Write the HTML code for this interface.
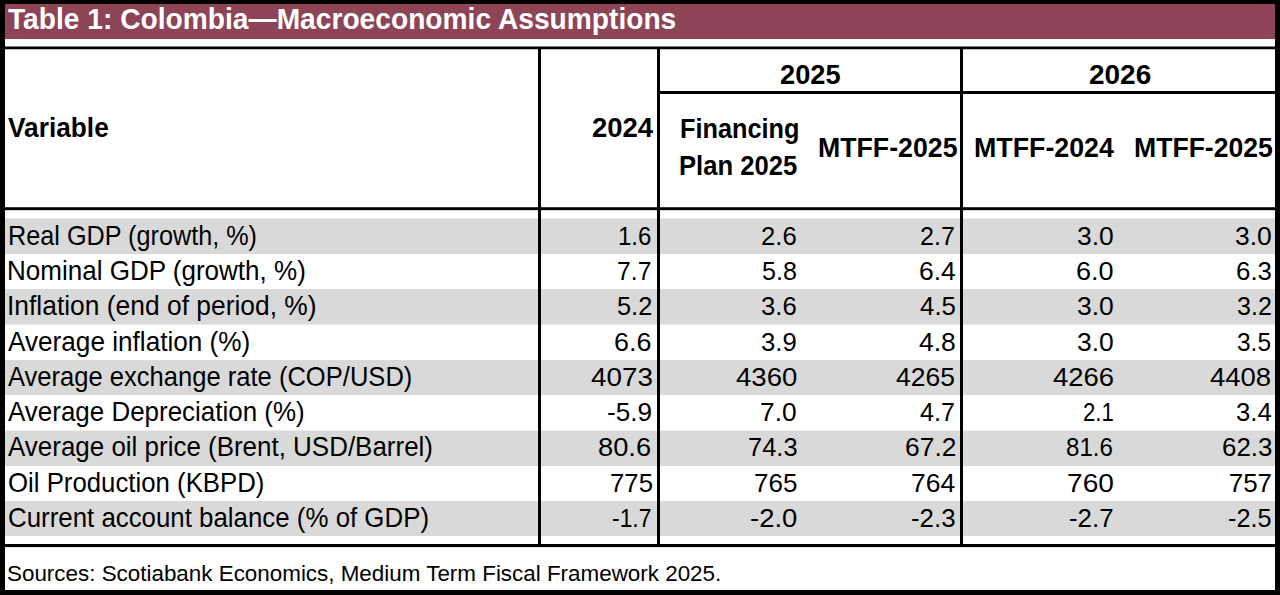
<!DOCTYPE html>
<html><head><meta charset="utf-8"><style>
html,body{margin:0;padding:0;}
body{width:1280px;height:595px;position:relative;overflow:hidden;background:#fff;font-family:"Liberation Sans",sans-serif;}
div{position:absolute;}
.t{position:absolute;white-space:nowrap;}
</style></head><body>
<div style="left:0px;top:0px;width:1280px;height:4px;background:#000"></div>
<div style="left:0px;top:0px;width:5px;height:595px;background:#000"></div>
<div style="left:1275px;top:0px;width:5px;height:595px;background:#000"></div>
<div style="left:0px;top:590px;width:1280px;height:5px;background:#000"></div>
<div style="left:5px;top:4px;width:1270px;height:35px;background:#8d4457"></div>
<div style="left:5px;top:219px;width:1270px;height:35px;background:#d9d9d9"></div>
<div style="left:5px;top:289px;width:1270px;height:35px;background:#d9d9d9"></div>
<div style="left:5px;top:360px;width:1270px;height:35px;background:#d9d9d9"></div>
<div style="left:5px;top:431px;width:1270px;height:35px;background:#d9d9d9"></div>
<div style="left:5px;top:501px;width:1270px;height:35px;background:#d9d9d9"></div>
<div style="left:5px;top:218px;width:1270px;height:1px;background:#ececec"></div>
<div style="left:5px;top:324px;width:1270px;height:1px;background:#ececec"></div>
<div style="left:5px;top:430px;width:1270px;height:1px;background:#eeeeee"></div>
<div style="left:5px;top:46px;width:1270px;height:1px;background:#808080"></div>
<div style="left:5px;top:47px;width:1270px;height:2px;background:#000"></div>
<div style="left:5px;top:49px;width:1270px;height:1px;background:#c0c0c0"></div>
<div style="left:657px;top:91px;width:618px;height:3px;background:#000"></div>
<div style="left:5px;top:207px;width:1270px;height:1px;background:#383838"></div>
<div style="left:5px;top:208px;width:1270px;height:2px;background:#000"></div>
<div style="left:5px;top:210px;width:1270px;height:1px;background:#d0d0d0"></div>
<div style="left:5px;top:544px;width:1270px;height:3px;background:#000"></div>
<div style="left:5px;top:547px;width:1270px;height:1px;background:#e0e0e0"></div>
<div style="left:538px;top:47px;width:3px;height:500px;background:#000"></div>
<div style="left:657px;top:47px;width:3px;height:500px;background:#000"></div>
<div style="left:960px;top:47px;width:3px;height:500px;background:#000"></div>
<span class="t" style="left:7.90px;top:4.00px;font-size:29.5px;line-height:29.5px;font-weight:700;color:#fff;transform-origin:0 25.00px;transform:scale(0.9548,1.0046)">Table 1: Colombia—Macroeconomic Assumptions</span>
<span class="t" style="left:8.00px;top:115.00px;font-size:26px;line-height:26px;font-weight:700;color:#000;transform-origin:0 22.00px;transform:scale(1.0101,1.0455)">Variable</span>
<span class="t" style="left:591.70px;top:115.20px;font-size:26px;line-height:26px;font-weight:700;color:#000;transform-origin:0 22.00px;transform:scale(1.0562,1.0455)">2024</span>
<span class="t" style="left:779.50px;top:61.75px;font-size:26px;line-height:26px;font-weight:700;color:#000;transform-origin:0 22.00px;transform:scale(1.0465,1.0567)">2025</span>
<span class="t" style="left:1088.70px;top:61.75px;font-size:26px;line-height:26px;font-weight:700;color:#000;transform-origin:0 22.00px;transform:scale(1.0751,1.0567)">2026</span>
<span class="t" style="left:679.80px;top:116.10px;font-size:26px;line-height:26px;font-weight:700;color:#000;transform-origin:0 22.00px;transform:scale(0.9731,1.0455)">Financing</span>
<span class="t" style="left:679.25px;top:152.70px;font-size:26px;line-height:26px;font-weight:700;color:#000;transform-origin:0 22.00px;transform:scale(0.9863,1.0455)">Plan 2025</span>
<span class="t" style="left:817.50px;top:135.00px;font-size:26px;line-height:26px;font-weight:700;color:#000;transform-origin:0 22.00px;transform:scale(1.0271,1.0455)">MTFF-2025</span>
<span class="t" style="left:974.25px;top:135.00px;font-size:26px;line-height:26px;font-weight:700;color:#000;transform-origin:0 22.00px;transform:scale(1.0299,1.0455)">MTFF-2024</span>
<span class="t" style="left:1133.75px;top:135.00px;font-size:26px;line-height:26px;font-weight:700;color:#000;transform-origin:0 22.00px;transform:scale(1.0226,1.0455)">MTFF-2025</span>
<span class="t" style="left:7.80px;top:222.70px;font-size:26px;line-height:26px;font-weight:400;color:#000;transform-origin:0 22.00px;transform:scale(0.9700,1.0335)">Real GDP (growth, %)</span>
<span class="t" style="left:618.10px;top:222.70px;font-size:26px;line-height:26px;font-weight:400;color:#000;transform-origin:0 22.00px;transform:scale(0.9216,1.0015)">1.6</span>
<span class="t" style="left:760.80px;top:222.70px;font-size:26px;line-height:26px;font-weight:400;color:#000;transform-origin:0 22.00px;transform:scale(0.9883,1.0015)">2.6</span>
<span class="t" style="left:920.00px;top:222.70px;font-size:26px;line-height:26px;font-weight:400;color:#000;transform-origin:0 22.00px;transform:scale(0.9651,1.0015)">2.7</span>
<span class="t" style="left:1076.80px;top:222.70px;font-size:26px;line-height:26px;font-weight:400;color:#000;transform-origin:0 22.00px;transform:scale(1.0180,1.0015)">3.0</span>
<span class="t" style="left:1234.60px;top:222.70px;font-size:26px;line-height:26px;font-weight:400;color:#000;transform-origin:0 22.00px;transform:scale(1.0177,1.0015)">3.0</span>
<span class="t" style="left:7.30px;top:257.98px;font-size:26px;line-height:26px;font-weight:400;color:#000;transform-origin:0 22.00px;transform:scale(1.0007,1.0335)">Nominal GDP (growth, %)</span>
<span class="t" style="left:617.20px;top:257.98px;font-size:26px;line-height:26px;font-weight:400;color:#000;transform-origin:0 22.00px;transform:scale(0.9530,1.0015)">7.7</span>
<span class="t" style="left:761.50px;top:257.98px;font-size:26px;line-height:26px;font-weight:400;color:#000;transform-origin:0 22.00px;transform:scale(0.9651,1.0015)">5.8</span>
<span class="t" style="left:918.80px;top:257.98px;font-size:26px;line-height:26px;font-weight:400;color:#000;transform-origin:0 22.00px;transform:scale(1.0177,1.0015)">6.4</span>
<span class="t" style="left:1075.60px;top:257.98px;font-size:26px;line-height:26px;font-weight:400;color:#000;transform-origin:0 22.00px;transform:scale(1.0415,1.0015)">6.0</span>
<span class="t" style="left:1235.80px;top:257.98px;font-size:26px;line-height:26px;font-weight:400;color:#000;transform-origin:0 22.00px;transform:scale(0.9944,1.0015)">6.3</span>
<span class="t" style="left:7.30px;top:293.26px;font-size:26px;line-height:26px;font-weight:400;color:#000;transform-origin:0 22.00px;transform:scale(1.0153,1.0335)">Inflation (end of period, %)</span>
<span class="t" style="left:617.20px;top:293.26px;font-size:26px;line-height:26px;font-weight:400;color:#000;transform-origin:0 22.00px;transform:scale(0.9768,1.0015)">5.2</span>
<span class="t" style="left:760.80px;top:293.26px;font-size:26px;line-height:26px;font-weight:400;color:#000;transform-origin:0 22.00px;transform:scale(0.9883,1.0015)">3.6</span>
<span class="t" style="left:919.50px;top:293.26px;font-size:26px;line-height:26px;font-weight:400;color:#000;transform-origin:0 22.00px;transform:scale(0.9944,1.0015)">4.5</span>
<span class="t" style="left:1076.80px;top:293.26px;font-size:26px;line-height:26px;font-weight:400;color:#000;transform-origin:0 22.00px;transform:scale(1.0180,1.0015)">3.0</span>
<span class="t" style="left:1237.00px;top:293.26px;font-size:26px;line-height:26px;font-weight:400;color:#000;transform-origin:0 22.00px;transform:scale(0.9651,1.0015)">3.2</span>
<span class="t" style="left:8.20px;top:328.54px;font-size:26px;line-height:26px;font-weight:400;color:#000;transform-origin:0 22.00px;transform:scale(1.0059,1.0335)">Average inflation (%)</span>
<span class="t" style="left:614.40px;top:328.54px;font-size:26px;line-height:26px;font-weight:400;color:#000;transform-origin:0 22.00px;transform:scale(1.0356,1.0015)">6.6</span>
<span class="t" style="left:760.80px;top:328.54px;font-size:26px;line-height:26px;font-weight:400;color:#000;transform-origin:0 22.00px;transform:scale(0.9883,1.0015)">3.9</span>
<span class="t" style="left:918.80px;top:328.54px;font-size:26px;line-height:26px;font-weight:400;color:#000;transform-origin:0 22.00px;transform:scale(1.0180,1.0015)">4.8</span>
<span class="t" style="left:1076.80px;top:328.54px;font-size:26px;line-height:26px;font-weight:400;color:#000;transform-origin:0 22.00px;transform:scale(1.0180,1.0015)">3.0</span>
<span class="t" style="left:1237.00px;top:328.54px;font-size:26px;line-height:26px;font-weight:400;color:#000;transform-origin:0 22.00px;transform:scale(0.9416,1.0015)">3.5</span>
<span class="t" style="left:8.20px;top:363.82px;font-size:26px;line-height:26px;font-weight:400;color:#000;transform-origin:0 22.00px;transform:scale(0.9829,1.0335)">Average exchange rate (COP/USD)</span>
<span class="t" style="left:591.40px;top:363.82px;font-size:26px;line-height:26px;font-weight:400;color:#000;transform-origin:0 22.00px;transform:scale(1.0716,1.0015)">4073</span>
<span class="t" style="left:735.60px;top:363.82px;font-size:26px;line-height:26px;font-weight:400;color:#000;transform-origin:0 22.00px;transform:scale(1.0608,1.0015)">4360</span>
<span class="t" style="left:896.30px;top:363.82px;font-size:26px;line-height:26px;font-weight:400;color:#000;transform-origin:0 22.00px;transform:scale(1.0180,1.0015)">4265</span>
<span class="t" style="left:1052.75px;top:363.82px;font-size:26px;line-height:26px;font-weight:400;color:#000;transform-origin:0 22.00px;transform:scale(1.0571,1.0015)">4266</span>
<span class="t" style="left:1209.70px;top:363.82px;font-size:26px;line-height:26px;font-weight:400;color:#000;transform-origin:0 22.00px;transform:scale(1.0572,1.0015)">4408</span>
<span class="t" style="left:8.20px;top:399.10px;font-size:26px;line-height:26px;font-weight:400;color:#000;transform-origin:0 22.00px;transform:scale(0.9980,1.0335)">Average Depreciation (%)</span>
<span class="t" style="left:606.50px;top:399.10px;font-size:26px;line-height:26px;font-weight:400;color:#000;transform-origin:0 22.00px;transform:scale(1.0049,1.0015)">-5.9</span>
<span class="t" style="left:760.10px;top:399.10px;font-size:26px;line-height:26px;font-weight:400;color:#000;transform-origin:0 22.00px;transform:scale(1.0121,1.0015)">7.0</span>
<span class="t" style="left:920.00px;top:399.10px;font-size:26px;line-height:26px;font-weight:400;color:#000;transform-origin:0 22.00px;transform:scale(0.9651,1.0015)">4.7</span>
<span class="t" style="left:1082.70px;top:399.10px;font-size:26px;line-height:26px;font-weight:400;color:#000;transform-origin:0 22.00px;transform:scale(0.8535,1.0015)">2.1</span>
<span class="t" style="left:1235.80px;top:399.10px;font-size:26px;line-height:26px;font-weight:400;color:#000;transform-origin:0 22.00px;transform:scale(0.9889,1.0015)">3.4</span>
<span class="t" style="left:8.20px;top:434.38px;font-size:26px;line-height:26px;font-weight:400;color:#000;transform-origin:0 22.00px;transform:scale(0.9981,1.0335)">Average oil price (Brent, USD/Barrel)</span>
<span class="t" style="left:598.20px;top:434.38px;font-size:26px;line-height:26px;font-weight:400;color:#000;transform-origin:0 22.00px;transform:scale(1.0490,1.0015)">80.6</span>
<span class="t" style="left:747.70px;top:434.38px;font-size:26px;line-height:26px;font-weight:400;color:#000;transform-origin:0 22.00px;transform:scale(0.9798,1.0015)">74.3</span>
<span class="t" style="left:904.50px;top:434.38px;font-size:26px;line-height:26px;font-weight:400;color:#000;transform-origin:0 22.00px;transform:scale(1.0169,1.0015)">67.2</span>
<span class="t" style="left:1066.10px;top:434.38px;font-size:26px;line-height:26px;font-weight:400;color:#000;transform-origin:0 22.00px;transform:scale(0.9266,1.0015)">81.6</span>
<span class="t" style="left:1221.50px;top:434.38px;font-size:26px;line-height:26px;font-weight:400;color:#000;transform-origin:0 22.00px;transform:scale(0.9960,1.0015)">62.3</span>
<span class="t" style="left:7.80px;top:469.66px;font-size:26px;line-height:26px;font-weight:400;color:#000;transform-origin:0 22.00px;transform:scale(0.9914,1.0335)">Oil Production (KBPD)</span>
<span class="t" style="left:609.60px;top:469.66px;font-size:26px;line-height:26px;font-weight:400;color:#000;transform-origin:0 22.00px;transform:scale(0.9905,1.0015)">775</span>
<span class="t" style="left:753.70px;top:469.66px;font-size:26px;line-height:26px;font-weight:400;color:#000;transform-origin:0 22.00px;transform:scale(1.0003,1.0015)">765</span>
<span class="t" style="left:911.00px;top:469.66px;font-size:26px;line-height:26px;font-weight:400;color:#000;transform-origin:0 22.00px;transform:scale(1.0192,1.0015)">764</span>
<span class="t" style="left:1066.60px;top:469.66px;font-size:26px;line-height:26px;font-weight:400;color:#000;transform-origin:0 22.00px;transform:scale(1.0814,1.0015)">760</span>
<span class="t" style="left:1228.70px;top:469.66px;font-size:26px;line-height:26px;font-weight:400;color:#000;transform-origin:0 22.00px;transform:scale(1.0000,1.0015)">757</span>
<span class="t" style="left:7.60px;top:504.94px;font-size:26px;line-height:26px;font-weight:400;color:#000;transform-origin:0 22.00px;transform:scale(0.9943,1.0335)">Current account balance (% of GDP)</span>
<span class="t" style="left:611.80px;top:504.94px;font-size:26px;line-height:26px;font-weight:400;color:#000;transform-origin:0 22.00px;transform:scale(0.8813,1.0015)">-1.7</span>
<span class="t" style="left:749.60px;top:504.94px;font-size:26px;line-height:26px;font-weight:400;color:#000;transform-origin:0 22.00px;transform:scale(1.0558,1.0015)">-2.0</span>
<span class="t" style="left:911.00px;top:504.94px;font-size:26px;line-height:26px;font-weight:400;color:#000;transform-origin:0 22.00px;transform:scale(0.9955,1.0015)">-2.3</span>
<span class="t" style="left:1069.00px;top:504.94px;font-size:26px;line-height:26px;font-weight:400;color:#000;transform-origin:0 22.00px;transform:scale(0.9955,1.0015)">-2.7</span>
<span class="t" style="left:1228.00px;top:504.94px;font-size:26px;line-height:26px;font-weight:400;color:#000;transform-origin:0 22.00px;transform:scale(0.9723,1.0015)">-2.5</span>
<span class="t" style="left:7.20px;top:562.60px;font-size:22px;line-height:22px;font-weight:400;color:#000;transform-origin:0 18.00px;transform:scale(1.0183,1.0322)">Sources: Scotiabank Economics, Medium Term Fiscal Framework 2025.</span>
</body></html>
